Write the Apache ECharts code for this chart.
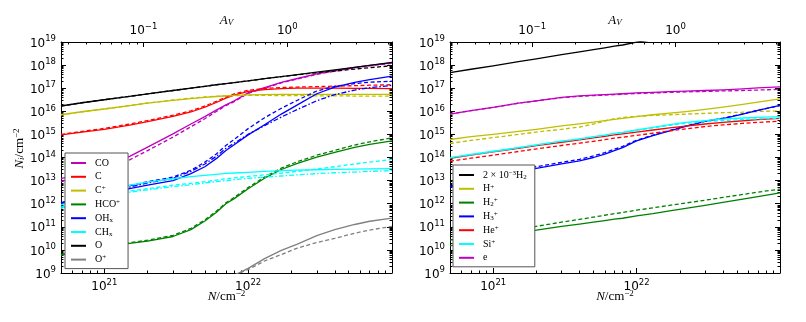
<!DOCTYPE html>
<html><head><meta charset="utf-8">
<script src="https://cdn.jsdelivr.net/npm/echarts@6/dist/echarts.min.js"></script>
<style>html,body{margin:0;padding:0;background:#fff}#c{width:806px;height:322px}</style>
</head><body><div id="c"></div>
<script>
// Column density grid N (cm^-2), shared by both panels
const N = [5e20, 7e20, 1e21, 1.5e21, 2e21, 3e21, 4e21, 5e21, 6e21, 7e21, 8e21, 1e22, 1.3e22, 1.7e22, 2.2e22, 3e22, 4e22, 5.5e22, 7e22, 1e23];
// Conversion N -> A_V for the top axis
const N_PER_AV = 1.87e22;

// Values, given as log10(N_i / cm^-2)
// Left panel
const CO      = [13.09, 13.32, 13.6, 14.05, 14.45, 15.02, 15.45, 15.77, 16.05, 16.28, 16.45, 16.8, 17.02, 17.25, 17.42, 17.62, 17.76, 17.9, 17.99, 18.1];
const CO_b    = [12.97, 13.18, 13.45, 13.9, 14.3, 14.88, 15.33, 15.68, 15.99, 16.24, 16.42, 16.78, 17.0, 17.23, 17.4, 17.6, 17.74, 17.88, 17.97, 18.08];
const C       = [14.98, 15.1, 15.22, 15.4, 15.55, 15.78, 15.97, 16.18, 16.38, 16.57, 16.7, 16.86, 16.94, 16.98, 17.0, 17.0, 17.0, 16.99, 16.99, 16.98];
const C_b     = [15.0, 15.13, 15.26, 15.45, 15.6, 15.83, 16.02, 16.23, 16.43, 16.62, 16.75, 16.91, 16.99, 17.03, 17.05, 17.07, 17.09, 17.11, 17.13, 17.15];
const Cp      = [15.85, 15.98, 16.1, 16.25, 16.35, 16.47, 16.55, 16.6, 16.64, 16.67, 16.69, 16.71, 16.72, 16.73, 16.73, 16.73, 16.73, 16.73, 16.73, 16.73];
const Cp_b    = [15.85, 15.98, 16.1, 16.25, 16.36, 16.49, 16.57, 16.62, 16.65, 16.67, 16.68, 16.69, 16.69, 16.68, 16.68, 16.67, 16.67, 16.66, 16.66, 16.66];
const HCOp    = [9.77, 9.95, 10.1, 10.28, 10.38, 10.58, 10.88, 11.25, 11.62, 12.0, 12.22, 12.65, 13.1, 13.48, 13.75, 14.02, 14.22, 14.44, 14.57, 14.72];
const HCOp_b  = [9.8, 9.98, 10.13, 10.31, 10.42, 10.63, 10.93, 11.3, 11.67, 12.04, 12.27, 12.7, 13.15, 13.54, 13.82, 14.1, 14.31, 14.54, 14.68, 14.85];
const OHx     = [12.01, 12.2, 12.4, 12.65, 12.8, 13.0, 13.3, 13.6, 13.95, 14.3, 14.55, 14.98, 15.42, 15.88, 16.28, 16.76, 17.05, 17.25, 17.37, 17.52];
const OHx_b   = [12.05, 12.28, 12.5, 12.78, 12.95, 13.15, 13.45, 13.8, 14.15, 14.52, 14.78, 15.25, 15.72, 16.13, 16.48, 16.88, 17.08, 17.2, 17.26, 17.3];
const OHx_c   = [12.03, 12.25, 12.45, 12.72, 12.9, 13.1, 13.4, 13.72, 14.05, 14.4, 14.62, 15.0, 15.38, 15.75, 16.08, 16.46, 16.72, 16.92, 17.02, 17.12];
const CHx     = [11.95, 12.25, 12.5, 12.8, 12.93, 13.08, 13.17, 13.23, 13.27, 13.31, 13.33, 13.36, 13.4, 13.43, 13.45, 13.47, 13.49, 13.5, 13.51, 13.52];
const CHx_b   = [11.85, 12.1, 12.3, 12.55, 12.65, 12.8, 12.88, 12.95, 13.02, 13.08, 13.12, 13.18, 13.25, 13.32, 13.4, 13.5, 13.6, 13.72, 13.8, 13.92];
const CHx_c   = [11.8, 12.05, 12.25, 12.5, 12.6, 12.74, 12.82, 12.9, 12.96, 13.0, 13.04, 13.1, 13.15, 13.2, 13.25, 13.3, 13.34, 13.37, 13.4, 13.43];
const O       = [16.23, 16.37, 16.5, 16.65, 16.75, 16.9, 17.0, 17.08, 17.15, 17.2, 17.24, 17.32, 17.41, 17.5, 17.59, 17.7, 17.79, 17.9, 17.99, 18.12];
const O_b     = [16.23, 16.37, 16.5, 16.65, 16.75, 16.9, 17.0, 17.08, 17.15, 17.2, 17.24, 17.32, 17.41, 17.5, 17.58, 17.67, 17.74, 17.83, 17.89, 17.97];
const Op      = [null, null, null, null, null, null, null, null, null, null, 8.9, 9.2, 9.62, 9.98, 10.25, 10.62, 10.88, 11.1, 11.24, 11.38];
const Op_b    = [null, null, null, null, null, null, null, null, null, null, 8.92, 9.15, 9.52, 9.8, 10.08, 10.32, 10.5, 10.72, 10.86, 11.02];
// Right panel
const H2x     = [17.67, 17.82, 17.97, 18.15, 18.27, 18.45, 18.57, 18.67, 18.75, 18.82, 18.87, 18.99, 19.1, 19.22, 19.33, 19.47, 19.6, 19.74, 19.85, 20.0];
const Hp      = [14.78, 14.9, 15.0, 15.13, 15.22, 15.37, 15.46, 15.53, 15.6, 15.65, 15.69, 15.77, 15.85, 15.92, 15.99, 16.08, 16.18, 16.3, 16.4, 16.54];
const Hp_b    = [14.61, 14.74, 14.86, 15.0, 15.1, 15.22, 15.32, 15.45, 15.58, 15.68, 15.73, 15.78, 15.82, 15.85, 15.88, 15.91, 15.94, 15.96, 15.99, 16.02];
const H2p     = [10.17, 10.36, 10.53, 10.73, 10.86, 11.02, 11.12, 11.2, 11.27, 11.33, 11.37, 11.47, 11.57, 11.69, 11.8, 11.93, 12.06, 12.2, 12.31, 12.47];
const H2p_b   = [10.42, 10.56, 10.7, 10.88, 11.02, 11.2, 11.32, 11.42, 11.5, 11.57, 11.62, 11.72, 11.82, 11.93, 12.03, 12.15, 12.27, 12.4, 12.5, 12.63];
const H3p     = [12.73, 12.95, 13.2, 13.4, 13.53, 13.72, 13.85, 14.0, 14.15, 14.3, 14.43, 14.72, 14.95, 15.15, 15.35, 15.56, 15.68, 15.88, 16.04, 16.26];
const H3p_b   = [12.75, 13.0, 13.25, 13.46, 13.6, 13.79, 13.92, 14.07, 14.21, 14.36, 14.48, 14.75, 14.97, 15.17, 15.36, 15.57, 15.7, 15.89, 16.04, 16.25];
const Hep     = [13.96, 14.1, 14.24, 14.4, 14.51, 14.66, 14.76, 14.85, 14.92, 14.98, 15.02, 15.1, 15.19, 15.28, 15.36, 15.45, 15.52, 15.59, 15.64, 15.69];
const Hep_b   = [13.84, 13.97, 14.1, 14.26, 14.37, 14.52, 14.62, 14.7, 14.77, 14.84, 14.88, 14.96, 15.05, 15.15, 15.24, 15.34, 15.41, 15.48, 15.52, 15.57];
const Sip     = [13.99, 14.13, 14.27, 14.43, 14.55, 14.71, 14.81, 14.9, 14.97, 15.04, 15.09, 15.19, 15.3, 15.42, 15.52, 15.6, 15.66, 15.71, 15.74, 15.77];
const Sip_b   = [13.98, 14.12, 14.26, 14.42, 14.54, 14.7, 14.8, 14.89, 14.96, 15.03, 15.08, 15.18, 15.28, 15.39, 15.48, 15.55, 15.6, 15.64, 15.67, 15.7];
const El      = [15.88, 16.03, 16.17, 16.35, 16.45, 16.6, 16.67, 16.7, 16.72, 16.74, 16.76, 16.8, 16.82, 16.85, 16.87, 16.9, 16.93, 16.97, 17.01, 17.06];
const El_b    = [15.88, 16.03, 16.17, 16.35, 16.45, 16.59, 16.65, 16.68, 16.7, 16.72, 16.74, 16.77, 16.79, 16.82, 16.84, 16.86, 16.88, 16.9, 16.92, 16.95];

// Tick values
const N_MAJOR = [1e21, 1e22, 1e23];
const N_MINOR = [6e20, 7e20, 8e20, 9e20, 2e21, 3e21, 4e21, 5e21, 6e21, 7e21, 8e21, 9e21, 2e22, 3e22, 4e22, 5e22, 6e22, 7e22, 8e22, 9e22];
const AV_MAJOR = [0.1, 1];
const AV_MINOR = [0.03, 0.04, 0.05, 0.06, 0.07, 0.08, 0.09, 0.2, 0.3, 0.4, 0.5, 0.6, 0.7, 0.8, 0.9, 2, 3, 4, 5];
const Y_MAJOR = [1e9, 1e10, 1e11, 1e12, 1e13, 1e14, 1e15, 1e16, 1e17, 1e18, 1e19];
const Y_SUBS = [2, 3, 4, 5, 6, 7, 8, 9];

const N_MIN = N[0], N_MAX = N[N.length - 1];
const Y_MIN = Y_MAJOR[0], Y_MAX = Y_MAJOR[Y_MAJOR.length - 1];
const Y_MINOR = [];
Y_MAJOR.slice(0, -1).forEach(d => Y_SUBS.forEach(s => Y_MINOR.push(s * d)));

const SANS = 'DejaVu Sans', SERIF = 'Liberation Serif';
const tickRich = {
  b: {fontFamily: SANS, fontSize: 12, color: '#000', verticalAlign: 'bottom'},
  s: {fontFamily: SANS, fontSize: 8.5, color: '#000', verticalAlign: 'bottom', padding: [0, 0, 6, 0]}
};
const nameRich = {
  i: {fontFamily: SERIF, fontStyle: 'italic', fontSize: 13, color: '#000', verticalAlign: 'bottom', lineHeight: 14},
  r: {fontFamily: SERIF, fontSize: 13, color: '#000', verticalAlign: 'bottom', lineHeight: 14},
  s: {fontFamily: SERIF, fontSize: 9, color: '#000', verticalAlign: 'bottom', lineHeight: 10, padding: [0, 0, 5, 0]},
  sub: {fontFamily: SERIF, fontStyle: 'italic', fontSize: 9, color: '#000', verticalAlign: 'bottom', lineHeight: 10, padding: [0, 0, 0, 0]}
};
const expFmt = v => {
  const e = Math.round(Math.log10(v));
  return '{b|10}{s|' + (e < 0 ? '\u2212' + (-e) : e) + '}';
};

function xAxes(g) {
  const base = {type: 'log', logBase: 10, gridIndex: g, splitLine: {show: false}, axisPointer: {show: false}};
  const line = {show: true, onZero: false, lineStyle: {color: '#000', width: 1}};
  const avMin = N_MIN / N_PER_AV, avMax = N_MAX / N_PER_AV;
  return [
    Object.assign({}, base, {position: 'bottom', min: N_MIN, max: N_MAX, axisLine: line,
      axisTick: {show: true, inside: true, length: 5, customValues: N_MAJOR, lineStyle: {color: '#000'}},
      axisLabel: {show: true, customValues: N_MAJOR, formatter: expFmt, rich: tickRich, margin: 5},
      name: '{i|N}{r|/cm}{s|\u22122}', nameLocation: 'middle', nameGap: 16, nameMoveOverlap: false, nameTextStyle: {rich: nameRich}}),
    Object.assign({}, base, {position: 'bottom', min: N_MIN, max: N_MAX, axisLine: {show: false},
      axisTick: {show: true, inside: true, length: 2.5, customValues: N_MINOR, lineStyle: {color: '#000'}},
      axisLabel: {show: false}}),
    Object.assign({}, base, {position: 'top', min: avMin, max: avMax, axisLine: line,
      axisTick: {show: true, inside: true, length: 5, customValues: AV_MAJOR, lineStyle: {color: '#000'}},
      axisLabel: {show: true, customValues: AV_MAJOR, formatter: expFmt, rich: tickRich, margin: 5},
      name: '{i|A}{sub|V}', nameLocation: 'middle', nameGap: 15, nameMoveOverlap: false, nameTextStyle: {rich: nameRich}}),
    Object.assign({}, base, {position: 'top', min: avMin, max: avMax, axisLine: {show: false},
      axisTick: {show: true, inside: true, length: 2.5, customValues: AV_MINOR, lineStyle: {color: '#000'}},
      axisLabel: {show: false}})
  ];
}
function yAxes(g) {
  const base = {type: 'log', logBase: 10, gridIndex: g, min: Y_MIN, max: Y_MAX, splitLine: {show: false}, axisPointer: {show: false}};
  const line = {show: true, onZero: false, lineStyle: {color: '#000', width: 1}};
  const left = Object.assign({}, base, {position: 'left', axisLine: line,
      axisTick: {show: true, inside: true, length: 5, customValues: Y_MAJOR, lineStyle: {color: '#000'}},
      axisLabel: {show: true, customValues: Y_MAJOR, formatter: expFmt, rich: tickRich, margin: 5}});
  if (g === 0) Object.assign(left, {name: '{i|N}{sub|i}{r|/cm}{s|\u22122}', nameLocation: 'middle', nameRotate: 90, nameGap: 33,
      nameTextStyle: {rich: nameRich, padding: [0, 0, 0, 18]}});
  return [
    left,
    Object.assign({}, base, {position: 'right', axisLine: line,
      axisTick: {show: true, inside: true, length: 5, customValues: Y_MAJOR, lineStyle: {color: '#000'}},
      axisLabel: {show: false}}),
    Object.assign({}, base, {position: 'left', axisLine: {show: false},
      axisTick: {show: true, inside: true, length: 2.5, customValues: Y_MINOR, lineStyle: {color: '#000'}},
      axisLabel: {show: false}}),
    Object.assign({}, base, {position: 'right', axisLine: {show: false},
      axisTick: {show: true, inside: true, length: 2.5, customValues: Y_MINOR, lineStyle: {color: '#000'}},
      axisLabel: {show: false}})
  ];
}

const DASH = [4, 2.5];
const DASHDOT = [5, 2, 1.5, 2];
function line(name, arr, color, g, type) {
  return {
    type: 'line', name: name, xAxisIndex: g * 4, yAxisIndex: g * 4,
    data: N.map((n, i) => arr[i] == null ? [n, null] : [n, Math.pow(10, arr[i])]),
    showSymbol: false, symbol: 'none', smooth: false, clip: true,
    lineStyle: {color: color, width: 1.3, type: type || 'solid', join: 'round'}, itemStyle: {color: color},
    emphasis: {disabled: true}, silent: true
  };
}

const COL = {m: '#bf00bf', r: '#ff0000', y: '#bfbf00', g: '#008000', b: '#0000ff', c: '#00ffff', k: '#000000', gr: '#808080'};

const series = [
  line('CO', CO, COL.m, 0), line('CO·b', CO_b, COL.m, 0, DASH),
  line('C', C, COL.r, 0), line('C·b', C_b, COL.r, 0, DASH),
  line('C+', Cp, COL.y, 0), line('C+·b', Cp_b, COL.y, 0, DASH),
  line('HCO+', HCOp, COL.g, 0), line('HCO+·b', HCOp_b, COL.g, 0, DASH),
  line('OHx', OHx, COL.b, 0), line('OHx·b', OHx_b, COL.b, 0, DASH), line('OHx·c', OHx_c, COL.b, 0, DASHDOT),
  line('CHx', CHx, COL.c, 0), line('CHx·b', CHx_b, COL.c, 0, DASH), line('CHx·c', CHx_c, COL.c, 0, DASHDOT),
  line('O', O, COL.k, 0), line('O·b', O_b, COL.k, 0, DASH),
  line('O+', Op, COL.gr, 0), line('O+·b', Op_b, COL.gr, 0, DASH),
  line('2e-3 H2', H2x, COL.k, 1),
  line('H+', Hp, COL.y, 1), line('H+·b', Hp_b, COL.y, 1, DASH),
  line('H2+', H2p, COL.g, 1), line('H2+·b', H2p_b, COL.g, 1, DASH),
  line('H3+', H3p, COL.b, 1), line('H3+·b', H3p_b, COL.b, 1, DASH),
  line('He+', Hep, COL.r, 1), line('He+·b', Hep_b, COL.r, 1, DASH),
  line('Si+', Sip, COL.c, 1), line('Si+·b', Sip_b, COL.c, 1, DASH),
  line('e', El, COL.m, 1), line('e·b', El_b, COL.m, 1, DASH)
];

const LEGEND_TEXT = {
  'CO': 'CO', 'C': 'C', 'C+': 'C{sup|+}', 'HCO+': 'HCO{sup|+}', 'OHx': 'OH{sub|x}', 'CHx': 'CH{sub|x}', 'O': 'O', 'O+': 'O{sup|+}',
  '2e-3 H2': '2 \u00d7 10{sup|\u22123}H{sub|2}', 'H+': 'H{sup|+}', 'H2+': 'H{sub|2}{sup|+}', 'H3+': 'H{sub|3}{sup|+}',
  'He+': 'He{sup|+}', 'Si+': 'Si{sup|+}', 'e': 'e'
};
const legendRich = {
  sup: {fontFamily: SERIF, fontSize: 7, color: '#000', lineHeight: 8, padding: [0, 0, 4, 0]},
  sub: {fontFamily: SERIF, fontSize: 7, color: '#000', lineHeight: 8, padding: [4, 0, 0, 0]}
};
function legend(data, left, top) {
  return {
    data: data, left: left, top: top, orient: 'vertical', icon: 'rect', itemWidth: 15, itemHeight: 2, itemGap: 1.8,
    selectedMode: false, backgroundColor: '#fff', borderColor: '#555', borderWidth: 1, borderRadius: 0,
    padding: [4, 8, 3, 6],
    textStyle: {fontFamily: SERIF, fontSize: 10, color: '#000', lineHeight: 12, padding: [0, 0, 0, 4], rich: legendRich},
    formatter: n => LEGEND_TEXT[n]
  };
}

const chart = echarts.init(document.getElementById('c'), null, {renderer: 'canvas'});
chart.setOption({
  animation: false,
  backgroundColor: '#fff',
  grid: [
    {left: 61, right: 414, top: 42, bottom: 49},
    {left: 450, right: 26, top: 42, bottom: 49}
  ],
  xAxis: xAxes(0).concat(xAxes(1)),
  yAxis: yAxes(0).concat(yAxes(1)),
  legend: [
    legend(['CO', 'C', 'C+', 'HCO+', 'OHx', 'CHx', 'O', 'O+'], 65, 153),
    legend(['2e-3 H2', 'H+', 'H2+', 'H3+', 'He+', 'Si+', 'e'], 453, 165)
  ],
  series: series
});
</script>
</body></html>
